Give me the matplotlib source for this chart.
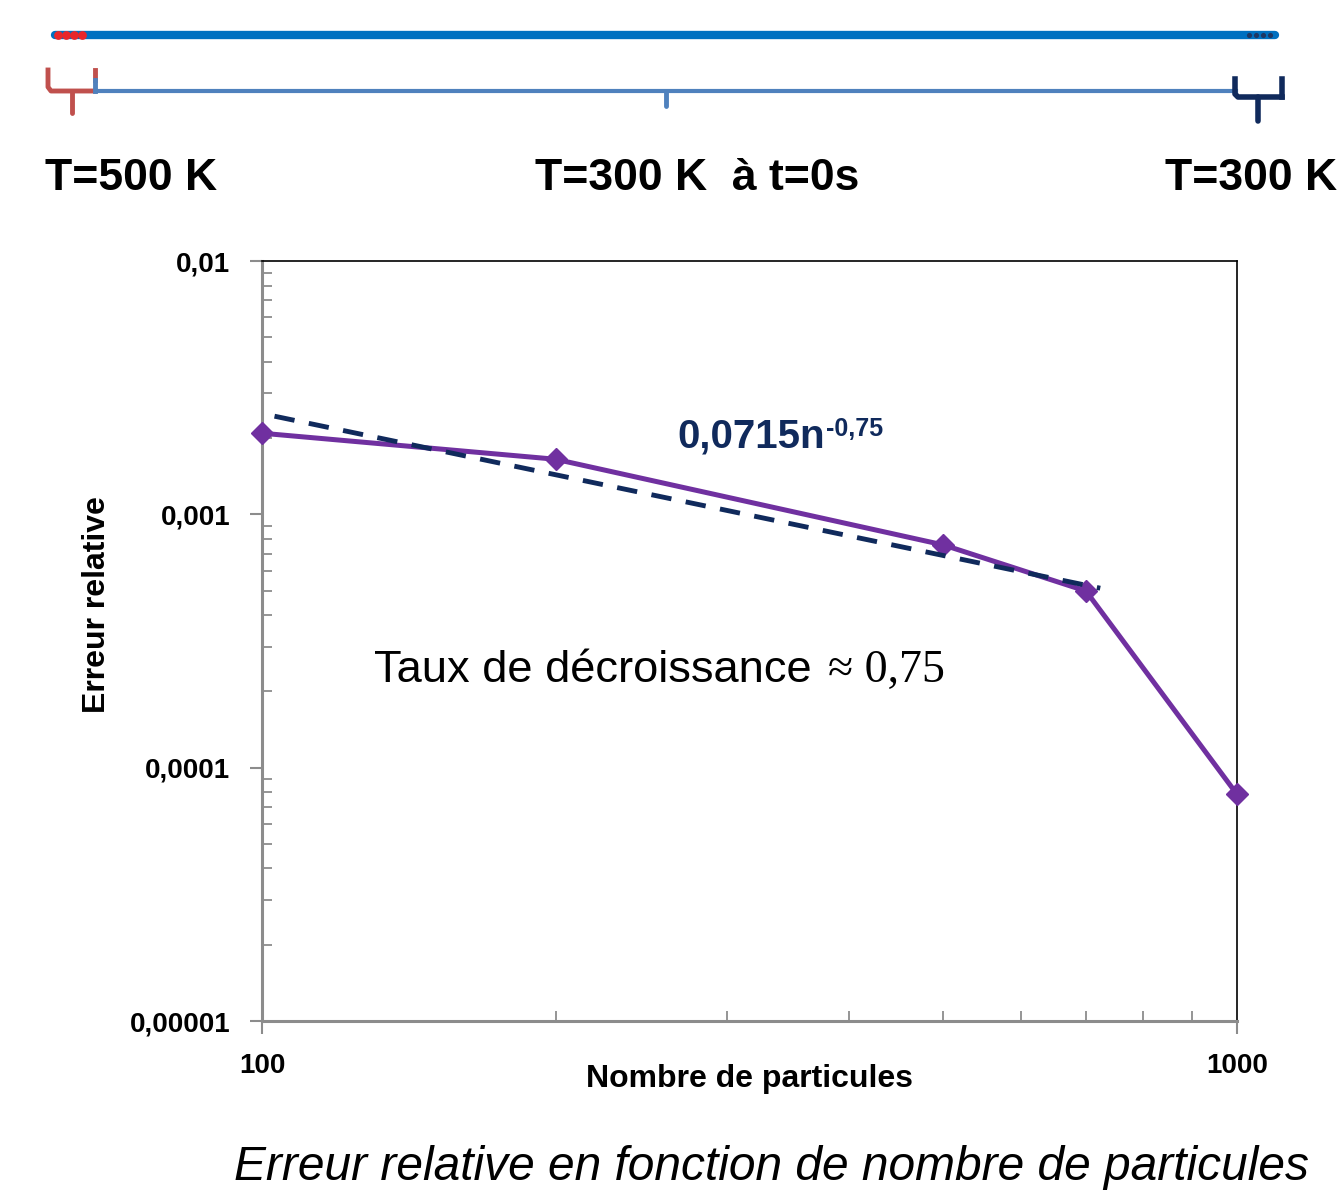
import numpy as np
import matplotlib
matplotlib.use('Agg')
import matplotlib.pyplot as plt
from matplotlib.ticker import FixedLocator, NullFormatter

# DONNÉES
nb_particules = [100, 200, 500, 700, 1000]
erreur_rel = [0.00209, 0.00165, 0.000757, 0.000498, 0.0000785]

# droite de tendance (loi de puissance) : extrémités du tracé pointillé
tendance_n = [103, 724]
tendance_err = [0.00244, 0.000511]

yticks = [1e-5, 1e-4, 1e-3, 1e-2]
ytick_labels = ['0,00001', '0,0001', '0,001', '0,01']
xticks = [100, 1000]
xtick_labels = ['100', '1000']
x_mineurs = [200, 300, 400, 500, 600, 700, 800, 900]
y_mineurs = [k * 10.0 ** e for e in range(-5, -2) for k in range(2, 10)]

# STYLE
plt.rcParams['font.family'] = ['Liberation Sans', 'DejaVu Sans']
W, H = 1343, 1197
fig = plt.figure(figsize=(W / 100, H / 100), dpi=100)
fig.patch.set_facecolor('white')

# Calque de fond en coordonnées pixel (schéma du haut + textes)
fond = fig.add_axes([0, 0, 1, 1], zorder=-1)
fond.set_xlim(0, W)
fond.set_ylim(H, 0)
fond.axis('off')

# Barre des particules
fond.plot([55, 1275], [35, 35], color='#0070C0', lw=6, solid_capstyle='round')
fond.scatter([58, 66, 74, 82], [35] * 4, s=40, color='#E8262A', zorder=3, linewidths=0)
fond.scatter([1249, 1256, 1263, 1270], [35] * 4, s=14, color='#1F3864', zorder=3, linewidths=0)

# Accolades et segment
fond.plot([95, 1236], [91, 91], color='#4F81BD', lw=3)
fond.plot([666, 666], [91, 106], color='#4F81BD', lw=3.5, solid_capstyle='round')
rouge = '#C0504D'
fond.plot([48, 48, 51, 95], [70, 87, 91, 91], color=rouge, lw=3.5)
fond.plot([95, 95], [70, 80], color=rouge, lw=3.5)
fond.plot([95, 95], [80, 91], color='#4F81BD', lw=3.5)
fond.plot([72, 72], [91, 113], color=rouge, lw=3.5, solid_capstyle='round')
marine = '#102A5C'
fond.plot([1235, 1235, 1238, 1282], [79, 94, 97, 97], color=marine, lw=4)
fond.plot([1282, 1282], [79, 97], color=marine, lw=4)
fond.plot([1258, 1258], [97, 121], color=marine, lw=4, solid_capstyle='round')

fond.text(45, 178, 'T=500 K', fontsize=32, fontweight='bold', ha='left', va='center')
fond.text(535, 178, 'T=300 K  à t=0s', fontsize=32, fontweight='bold', ha='left', va='center')
fond.text(1165, 178, 'T=300 K', fontsize=32, fontweight='bold', ha='left', va='center')

# GRAPHIQUE PRINCIPAL
ax = fig.add_axes([262 / W, 1 - 1021 / H, (1237 - 262) / W, (1021 - 261) / H])
ax.set_facecolor('none')
ax.set_xscale('log')
ax.set_yscale('log')

ax.plot(nb_particules, erreur_rel, color='#7030A0', lw=3.6, marker='D', ms=11,
        clip_on=False, zorder=3)
ax.plot(tendance_n, tendance_err, color=marine, lw=3.5, dashes=(4.2, 3.0),
        dash_capstyle='butt', zorder=4)

ax.set_xlim(100, 1000)
ax.set_ylim(1e-5, 1e-2)

ax.xaxis.set_major_locator(FixedLocator(xticks))
ax.xaxis.set_minor_locator(FixedLocator(x_mineurs))
ax.yaxis.set_major_locator(FixedLocator(yticks))
ax.yaxis.set_minor_locator(FixedLocator(y_mineurs))
ax.xaxis.set_minor_formatter(NullFormatter())
ax.yaxis.set_minor_formatter(NullFormatter())
ax.set_xticklabels(xtick_labels, fontsize=20, fontweight='bold')
ax.set_yticklabels(ytick_labels, fontsize=20, fontweight='bold')

gris = '#8c8c8c'
ax.tick_params(which='major', direction='out', length=9, width=1.5, color=gris)
ax.tick_params(axis='x', which='major', pad=14)
ax.tick_params(axis='y', which='major', pad=14)
ax.tick_params(which='minor', direction='in', length=7, width=1.3, color=gris)

for c in ['left', 'bottom']:
    ax.spines[c].set_color(gris)
    ax.spines[c].set_linewidth(2.2)
for c in ['top', 'right']:
    ax.spines[c].set_color('black')
    ax.spines[c].set_linewidth(1.2)

# Titres des axes
fond.text(97, 605, 'Erreur relative', fontsize=23, fontweight='bold', rotation=90,
          ha='center', va='center')
fond.text(750, 1079, 'Nombre de particules', fontsize=23, fontweight='bold',
          ha='center', va='center')

# Annotations
fond.text(677, 448, '0,0715n', fontsize=29, fontweight='bold', color=marine,
          ha='left', va='baseline')
fond.text(826, 436, '-0,75', fontsize=18, fontweight='bold', color=marine,
          ha='left', va='baseline')
fond.text(374, 682, 'Taux de décroissance', fontsize=32.6, ha='left', va='baseline')
fond.text(828, 682, '≈ 0,75', fontsize=33, ha='left', va='baseline',
          family=['Liberation Serif', 'DejaVu Serif'])

# Légende de la figure
fond.text(772, 1168, 'Erreur relative en fonction de nombre de particules',
          fontsize=34.5, style='italic', ha='center', va='center')

fig.savefig('out.png', dpi=100)
